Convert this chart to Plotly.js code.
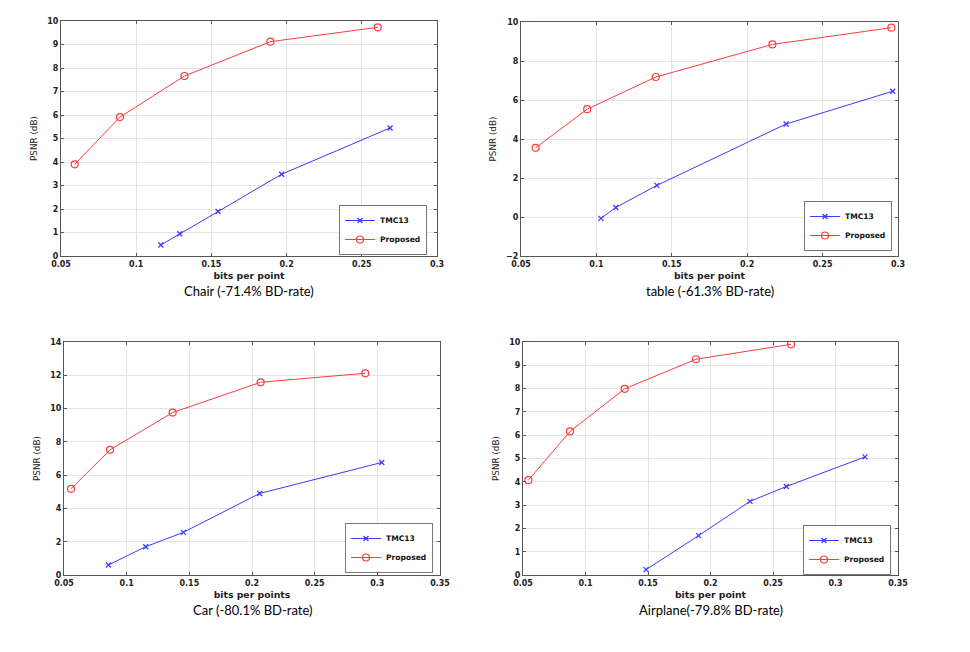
<!DOCTYPE html>
<html>
<head>
<meta charset="utf-8">
<script src="https://cdn.plot.ly/plotly-3.0.1.min.js"></script>
<style>html,body{margin:0;padding:0;background:#fff;}#chart{width:970px;height:652px;}</style>
</head>
<body>
<div id="chart"></div>
<script>
// ---- Data ----
const chairTmcX  = [0.1164, 0.1290, 0.1544, 0.1967, 0.2688];
const chairTmcY  = [0.47, 0.95, 1.89, 3.48, 5.45];
const chairPropX = [0.0591, 0.0892, 0.1321, 0.1892, 0.2606];
const chairPropY = [3.90, 5.91, 7.66, 9.12, 9.73];

const tableTmcX  = [0.1030, 0.1129, 0.1401, 0.2258, 0.2965];
const tableTmcY  = [-0.07, 0.49, 1.62, 4.77, 6.45];
const tablePropX = [0.0597, 0.0939, 0.1394, 0.2167, 0.2956];
const tablePropY = [3.55, 5.53, 7.18, 8.85, 9.71];

const carTmcX  = [0.0854, 0.1152, 0.1452, 0.2061, 0.3035];
const carTmcY  = [0.60, 1.70, 2.56, 4.90, 6.76];
const carPropX = [0.0556, 0.0867, 0.1367, 0.2069, 0.2904];
const carPropY = [5.18, 7.52, 9.76, 11.58, 12.12];

const planeTmcX  = [0.1484, 0.1905, 0.2316, 0.2607, 0.3236];
const planeTmcY  = [0.23, 1.69, 3.16, 3.80, 5.07];
const planePropX = [0.0543, 0.0876, 0.1313, 0.1884, 0.2644];
const planePropY = [4.07, 6.16, 7.99, 9.26, 9.90];

const seriesNames = ['TMC13', 'Proposed'];
const captions = ['Chair (-71.4% BD-rate)', 'table (-61.3% BD-rate)', 'Car (-80.1% BD-rate)', 'Airplane(-79.8% BD-rate)'];
const xTitles = ['bits per point', 'bits per point', 'bits per points', 'bits per point'];
const yTitle = 'PSNR (dB)';

// ---- Layout geometry (pixels) ----
const W = 970, H = 652;
const boxes = [
  {l: 61,  r: 437, t: 21,  b: 256, xr: [0.05, 0.30], yr: [0, 10], dx: 0.05, dy: 1},
  {l: 521, r: 898, t: 22,  b: 256, xr: [0.05, 0.30], yr: [-2, 10], dx: 0.05, dy: 2},
  {l: 64,  r: 440, t: 342, b: 575, xr: [0.05, 0.35], yr: [0, 14], dx: 0.05, dy: 2},
  {l: 523, r: 898, t: 342, b: 575, xr: [0.05, 0.35], yr: [0, 10], dx: 0.05, dy: 1}
];
const legendBoxes = [
  {r: 427, c: 230}, {r: 892, c: 226}, {r: 433, c: 548}, {r: 891, c: 550}
];

const data = [
  [chairTmcX, chairTmcY, chairPropX, chairPropY],
  [tableTmcX, tableTmcY, tablePropX, tablePropY],
  [carTmcX, carTmcY, carPropX, carPropY],
  [planeTmcX, planeTmcY, planePropX, planePropY]
];

const blue = '#3b3bff', red = '#ff3b3b';
const FONT = 'DejaVu Sans, Liberation Sans, Arial, sans-serif';
const tickFont = {family: FONT, size: 8, color: '#222', weight: 'bold'};

const traces = [];
const layout = {
  width: W, height: H,
  margin: {l: 0, r: 0, t: 0, b: 0},
  paper_bgcolor: '#fff', plot_bgcolor: '#fff',
  showlegend: true,
  annotations: []
};

data.forEach((d, i) => {
  const n = i === 0 ? '' : String(i + 1);
  const bx = boxes[i];
  const lg = i === 0 ? 'legend' : 'legend' + (i + 1);
  traces.push({
    x: d[0], y: d[1], type: 'scatter', mode: 'lines+markers', name: seriesNames[0],
    xaxis: 'x' + n, yaxis: 'y' + n, legend: lg,
    line: {color: blue, width: 1},
    marker: {symbol: 'x-thin-open', size: 5, color: blue, line: {color: blue, width: 1.3}}
  });
  traces.push({
    x: d[2], y: d[3], type: 'scatter', mode: 'lines+markers', name: seriesNames[1],
    xaxis: 'x' + n, yaxis: 'y' + n, legend: lg,
    line: {color: red, width: 1},
    marker: {symbol: 'circle-open', size: 7, color: red, line: {color: red, width: 1.2}}
  });
  layout['xaxis' + n] = {
    domain: [bx.l / W, bx.r / W], anchor: 'y' + n,
    range: bx.xr, dtick: bx.dx, tick0: 0.05,
    showgrid: true, gridcolor: '#e4e4e4', gridwidth: 1,
    zeroline: false, showline: true, linecolor: '#555', linewidth: 1, mirror: 'ticks',
    ticks: 'inside', ticklen: 3, tickcolor: '#555',
    tickfont: tickFont,
    title: {text: xTitles[i], font: {family: FONT, size: 9.3, color: '#222', weight: 'bold'}, standoff: 4}
  };
  layout['yaxis' + n] = {
    domain: [1 - bx.b / H, 1 - bx.t / H], anchor: 'x' + n,
    range: bx.yr, dtick: bx.dy,
    showgrid: true, gridcolor: '#e4e4e4', gridwidth: 1,
    zeroline: false, showline: true, linecolor: '#555', linewidth: 1, mirror: 'ticks',
    ticks: 'inside', ticklen: 3, tickcolor: '#555',
    tickfont: tickFont,
    title: {text: yTitle, font: {family: FONT, size: 8.8, color: '#222'}, standoff: 8}
  };
  const L = legendBoxes[i];
  layout[lg] = {
    x: L.r / W, y: 1 - L.c / H, xanchor: 'right', yanchor: 'middle',
    bgcolor: '#fff', bordercolor: '#777', borderwidth: 1,
    font: {family: FONT, size: 7.6, color: '#111', weight: 'bold'},
    tracegroupgap: 0, itemwidth: 30
  };
  layout.annotations.push({
    xref: 'paper', yref: 'paper',
    x: (bx.l + bx.r) / 2 / W, y: 1 - (bx.b + 35) / H,
    xanchor: 'center', yanchor: 'middle', showarrow: false,
    text: captions[i],
    font: {family: 'Lato, Roboto, sans-serif', size: 13, color: '#000'}
  });
});

Plotly.newPlot('chart', traces, layout, {staticPlot: true, displayModeBar: false});
</script>
</body>
</html>
